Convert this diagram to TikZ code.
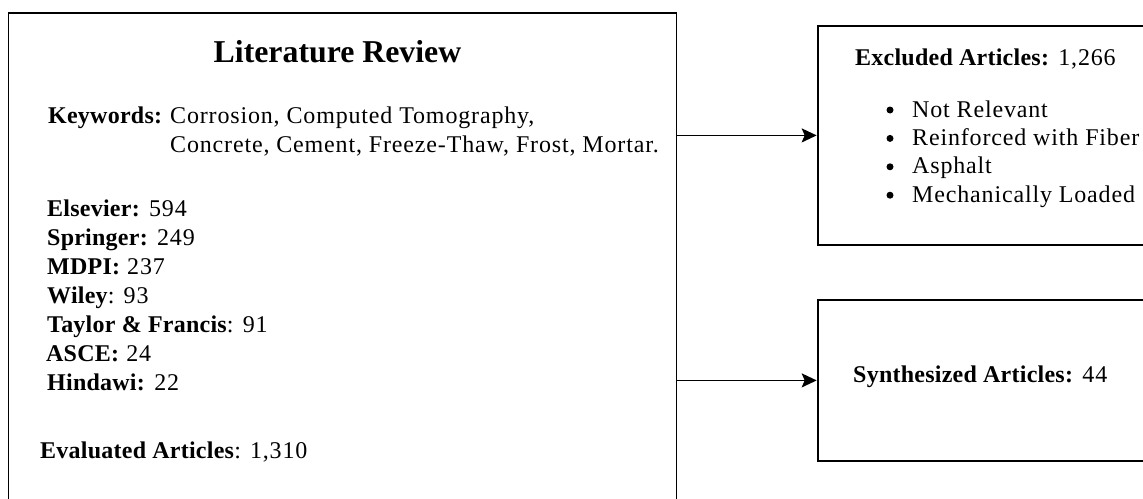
\documentclass[tikz,border=0pt]{standalone}
\usepackage{fontspec}
\setmainfont{Liberation Serif}[LetterSpace=3.5, BoldFeatures={LetterSpace=1}]
\newfontfamily\titlefont{Liberation Serif}
\usetikzlibrary{arrows.meta}
\begin{document}
\begin{tikzpicture}[x=1pt,y=-1pt,
  box/.style={draw, line width=1.8pt, inner sep=0pt, anchor=north west},
  txt/.style={inner sep=0pt, anchor=base west, font=\fontsize{24}{29}\selectfont},
  bul/.style={circle, fill, inner sep=0pt, minimum size=7pt},
  conn/.style={line width=1.8pt, -{Stealth[length=15pt,width=14pt,inset=3pt]}}]
\useasboundingbox (0,0) rectangle (1143,498);
\clip (0,0) rectangle (1143,498);
% boxes
\node[box, minimum width=668pt, minimum height=500pt] (lit) at (7.5,12) {};
\node[box, minimum width=340pt, minimum height=219pt] (excl) at (816.7,25) {};
\node[box, minimum width=340pt, minimum height=161pt] (synth) at (816.7,299) {};
% connectors
\draw[conn] (lit.east |- excl.west) -- (excl.west);
\draw[conn] (lit.east |- synth.west) -- (synth.west);
% left box text
\node[inner sep=0pt, anchor=base, font=\titlefont\bfseries\fontsize{31.8}{36}\selectfont] (title) at (337.5,62) {Literature Review};
\node[txt] (kwl) at (48,123) {\textbf{Keywords:}};
\node[txt] (kw1) at (170,123) {Corrosion, Computed Tomography,};
\node[txt] (kw2) at (170,152) {Concrete, Cement, Freeze-Thaw, Frost, Mortar.};
\node[txt] (p1) at (47,216.7) {\textbf{Elsevier:} 594};
\node[txt] (p2) at (47,245.6) {\textbf{Springer:} 249};
\node[txt] (p3) at (47,274.5) {\textbf{MDPI:} 237};
\node[txt] (p4) at (47,303.4) {\textbf{Wiley}: 93};
\node[txt] (p5) at (47,332.3) {\textbf{Taylor \& Francis}: 91};
\node[txt] (p6) at (46,361.2) {\textbf{ASCE:} 24};
\node[txt] (p7) at (47,390) {\textbf{Hindawi:} 22};
\node[txt] (eval) at (40,458) {\textbf{Evaluated Articles}: 1,310};
% excluded box text
\node[txt] (exh) at (855,65) {\textbf{Excluded Articles:} 1,266};
\foreach \t [count=\i from 0] in {Not Relevant, Reinforced with Fiber, Asphalt, Mechanically Loaded}{
  \node[bul] (b\i) at (890,110+28.4*\i) {};
  \node[txt] (e\i) at (912,117+28.4*\i) {\t};
}
% synthesized box text
\node[txt] (syn) at (853,382) {\textbf{Synthesized Articles:} 44};
\end{tikzpicture}
\end{document}
